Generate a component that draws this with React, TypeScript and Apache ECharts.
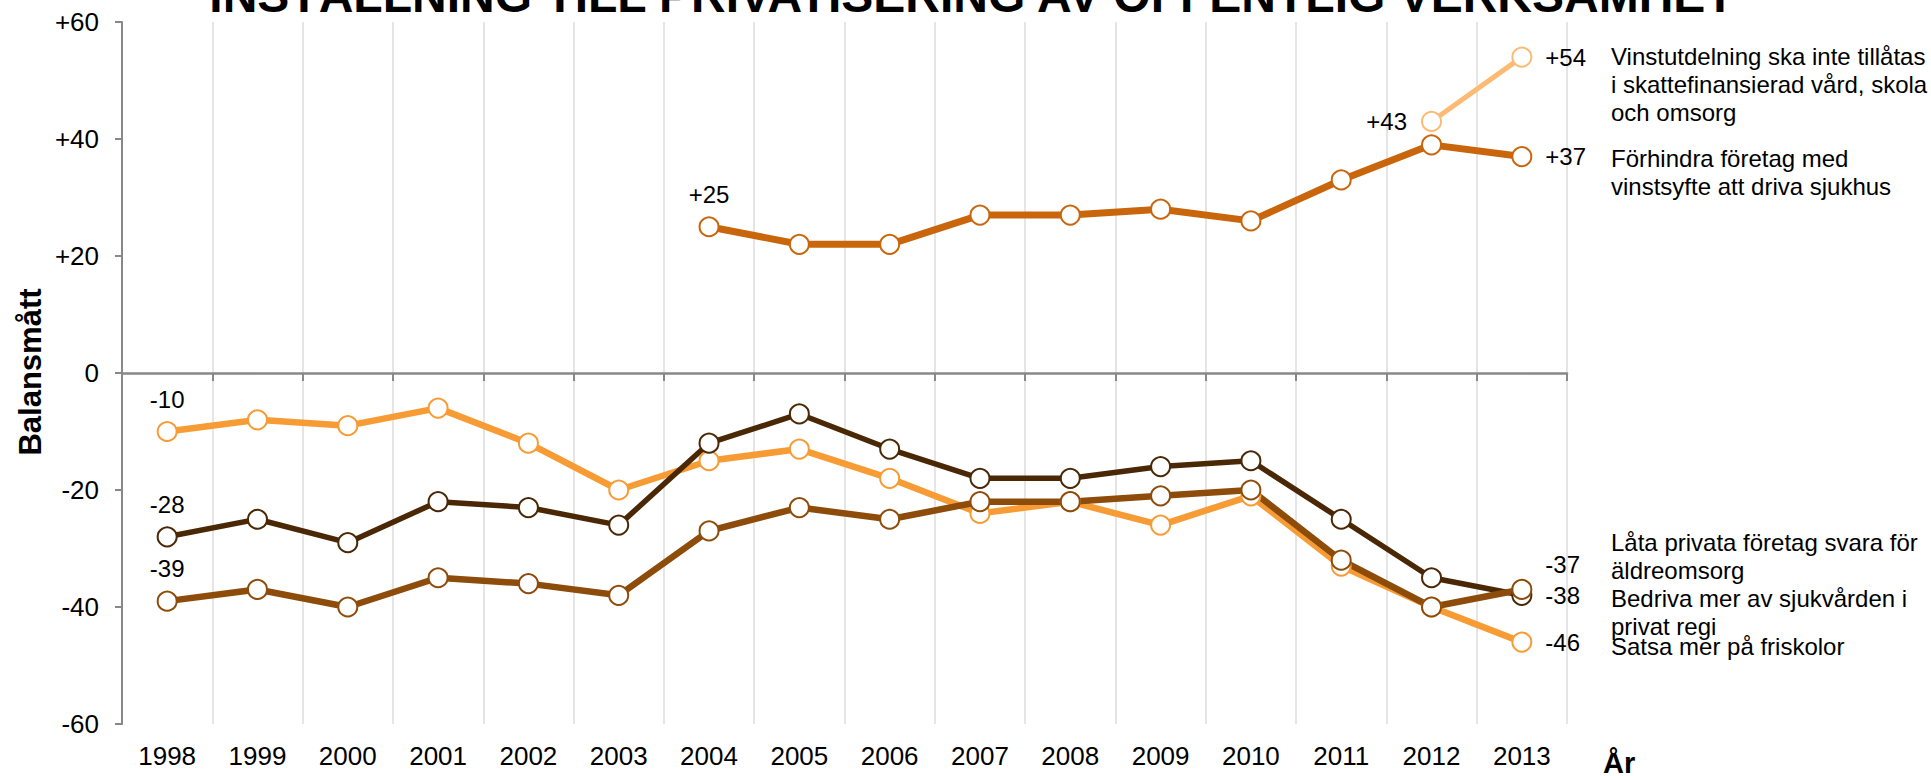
import React, { useEffect, useRef } from "react";
import * as echarts from "echarts";

const years = ["1998","1999","2000","2001","2002","2003","2004","2005","2006","2007","2008","2009","2010","2011","2012","2013"];
const friskolor = [-10, -8, -9, -6, -12, -20, -15, -13, -18, -24, -22, -26, -21, -33, -40, -46];
const aldreomsorg = [-28, -25, -29, -22, -23, -26, -12, -7, -13, -18, -18, -16, -15, -25, -35, -38];
const sjukvard = [-39, -37, -40, -35, -36, -38, -27, -23, -25, -22, -22, -21, -20, -32, -40, -37];
const sjukhus = [null, null, null, null, null, null, 25, 22, 22, 27, 27, 28, 26, 33, 39, 37];
const vinst = [null, null, null, null, null, null, null, null, null, null, null, null, null, null, 43, 54];

const yTicks = [-60, -40, -20, 0, 20, 40, 60];

const titleText = "INSTÄLLNING TILL PRIVATISERING AV OFFENTLIG VERKSAMHET";
const yName = "Balansmått";
const xName = "År";

const notes = [
  { text: "Vinstutdelning ska inte tillåtas\ni skattefinansierad vård, skola\noch omsorg", y: 84 },
  { text: "Förhindra företag med\nvinstsyfte att driva sjukhus", y: 172 },
  { text: "Låta privata företag svara för\näldreomsorg", y: 556 },
  { text: "Bedriva mer av sjukvården i\nprivat regi", y: 612 },
  { text: "Satsa mer på friskolor", y: 646 },
];

const FONT = "'Liberation Sans', Arial, sans-serif";

const fmt = (v: number) => (v > 0 ? "+" + v : "" + v);

function build(
  values: (number | null)[],
  firstPos: "top" | "left",
  lastOffset: number
) {
  const idx = values.map((v, i) => (v == null ? -1 : i)).filter((i) => i >= 0);
  const first = idx[0];
  const last = idx[idx.length - 1];
  return values.map((v, i) => {
    if (v == null) return null;
    if (i === first) {
      return {
        value: v,
        label: {
          show: true,
          position: firstPos,
          distance: firstPos === "top" ? 10 : 14,
          formatter: fmt(v),
        },
      };
    }
    if (i === last) {
      return {
        value: v,
        label: {
          show: true,
          position: "right",
          distance: 13,
          offset: [0, lastOffset],
          formatter: fmt(v),
        },
      };
    }
    return v;
  });
}

function lineSeries(name: string, values: (number | null)[], color: string, width: number, firstPos: "top" | "left", lastOffset = 0) {
  return {
    name,
    type: "line",
    xAxisIndex: 0,
    yAxisIndex: 0,
    data: build(values, firstPos, lastOffset),
    symbol: "circle",
    symbolSize: 19,
    showAllSymbol: true,
    connectNulls: false,
    lineStyle: { color, width },
    itemStyle: { color: "#ffffff", borderColor: color, borderWidth: 2 },
    label: {
      show: false,
      color: "#000",
      fontSize: 24,
      fontFamily: FONT,
    },
    emphasis: { disabled: true },
  };
}

export default function App() {
  const ref = useRef<HTMLDivElement>(null);
  useEffect(() => {
    if (!ref.current) return;
    const chart = echarts.init(ref.current, null, { renderer: "svg" });
    chart.setOption({
      animation: false,
      backgroundColor: "#ffffff",
      textStyle: { fontFamily: FONT },
      grid: { left: 122, right: 364, top: 22, bottom: 52, containLabel: false },
      xAxis: [
        {
          type: "category",
          data: years,
          boundaryGap: true,
          position: "bottom",
          axisLine: { show: false, onZero: false },
          axisTick: { show: false },
          axisLabel: { color: "#000", fontSize: 26, fontFamily: FONT, margin: 19, interval: 0 },
          splitLine: { show: true, interval: 0, lineStyle: { color: "#dcdcdc", width: 1.5 } },
        },
        {
          type: "category",
          data: years,
          boundaryGap: true,
          position: "bottom",
          axisLine: { show: true, onZero: true, lineStyle: { color: "#888888", width: 2.5 } },
          axisTick: { show: true, inside: false, length: 8, interval: 0, lineStyle: { color: "#888888", width: 2 } },
          axisLabel: { show: false },
          splitLine: { show: false },
        },
      ],
      yAxis: {
        type: "value",
        min: -60,
        max: 60,
        interval: 20,
        axisLine: { show: true, lineStyle: { color: "#888888", width: 2 } },
        axisTick: { show: true, inside: false, length: 7, lineStyle: { color: "#888888", width: 2 } },
        axisLabel: {
          color: "#000",
          fontSize: 26,
          fontFamily: FONT,
          margin: 23,
          formatter: (v: number) => (yTicks.includes(v) ? fmt(v) : ""),
        },
        splitLine: { show: false },
      },
      series: [
        lineSeries("Satsa mer på friskolor", friskolor, "#F79B35", 6.5, "top"),
        lineSeries("Låta privata företag svara för äldreomsorg", aldreomsorg, "#4A2806", 5.5, "top"),
        lineSeries("Bedriva mer av sjukvården i privat regi", sjukvard, "#8E4C0B", 6.5, "top", -25),
        lineSeries("Förhindra företag med vinstsyfte att driva sjukhus", sjukhus, "#C9660C", 7, "top"),
        lineSeries("Vinstutdelning ska inte tillåtas i skattefinansierad vård, skola och omsorg", vinst, "#FBBB74", 5, "left"),
      ],
      graphic: [
        {
          type: "text",
          x: 972,
          y: -29,
          style: {
            text: titleText,
            fill: "#000",
            font: `bold 48px ${FONT}`,
            align: "center",
            verticalAlign: "top",
          },
        },
        {
          type: "text",
          x: 30,
          y: 372,
          rotation: Math.PI / 2,
          style: {
            text: yName,
            fill: "#000",
            font: `bold 31px ${FONT}`,
            align: "center",
            verticalAlign: "middle",
          },
        },
        {
          type: "text",
          x: 1603,
          y: 748,
          style: {
            text: xName,
            fill: "#000",
            font: `bold 29px ${FONT}`,
            align: "left",
            verticalAlign: "top",
          },
        },
        ...notes.map((n) => ({
          type: "text",
          x: 1611,
          y: n.y,
          style: {
            text: n.text,
            fill: "#000",
            font: `24px ${FONT}`,
            lineHeight: 28,
            align: "left",
            verticalAlign: "middle",
          },
        })),
      ],
    });
    return () => chart.dispose();
  }, []);
  return (
    <div
      ref={ref}
      style={{ position: "fixed", left: 0, top: 0, width: 1931, height: 776, background: "#fff" }}
    />
  );
}
